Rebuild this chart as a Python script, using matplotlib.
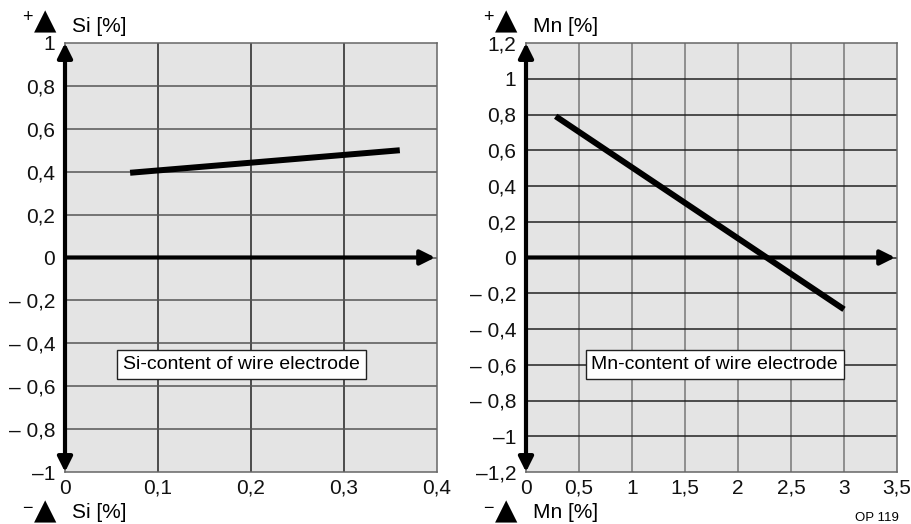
import matplotlib.pyplot as plt

plt.rcParams['font.family'] = ['Liberation Sans', 'DejaVu Sans']

# Si panel
si_x = [0.07, 0.36]
si_y = [0.395, 0.50]
si_xticks = [0, 0.1, 0.2, 0.3, 0.4]
si_xlabels = ['0', '0,1', '0,2', '0,3', '0,4']
si_yticks = [-1, -0.8, -0.6, -0.4, -0.2, 0, 0.2, 0.4, 0.6, 0.8, 1]
si_ylabels = ['–1', '– 0,8', '– 0,6', '– 0,4', '– 0,2', '0', '0,2', '0,4', '0,6', '0,8', '1']

# Mn panel
mn_x = [0.28, 3.0]
mn_y = [0.79, -0.29]
mn_xticks = [0, 0.5, 1, 1.5, 2, 2.5, 3, 3.5]
mn_xlabels = ['0', '0,5', '1', '1,5', '2', '2,5', '3', '3,5']
mn_yticks = [-1.2, -1, -0.8, -0.6, -0.4, -0.2, 0, 0.2, 0.4, 0.6, 0.8, 1, 1.2]
mn_ylabels = ['–1,2', '–1', '– 0,8', '– 0,6', '– 0,4', '– 0,2', '0',
              '0,2', '0,4', '0,6', '0,8', '1', '1,2']

W, H = 911, 524
fig = plt.figure(figsize=(W / 100, H / 100), dpi=100)


def px(x, y):
    return x / W, 1 - y / H


def panel(rect, xs, ys, xticks, xlabels, yticks, ylabels, vcol, hcol, box_xy, box_text, name, lx):
    ax = fig.add_axes(rect)
    ax.set_facecolor('#e4e4e4')
    ax.set_xlim(xticks[0], xticks[-1])
    ax.set_ylim(yticks[0], yticks[-1])
    ax.set_xticks(xticks)
    ax.set_xticklabels(xlabels)
    ax.set_yticks(yticks)
    ax.set_yticklabels(ylabels)
    ax.tick_params(length=0, labelsize=15, colors='#111')
    ax.tick_params(axis='y', pad=7)
    ax.tick_params(axis='x', pad=5)
    for v in xticks[1:-1]:
        ax.axvline(v, color=vcol, lw=1.1, zorder=1)
    for v in yticks[1:-1]:
        ax.axhline(v, color=hcol, lw=1.1, zorder=1)
    for s in ax.spines.values():
        s.set_color('#666')
        s.set_linewidth(1.1)
    # axes arrows
    ax.annotate('', xy=(0, yticks[-1]), xytext=(0, yticks[0]),
                arrowprops=dict(arrowstyle='<|-|>', color='black', lw=3,
                                mutation_scale=22, shrinkA=0, shrinkB=0),
                annotation_clip=False, zorder=5)
    ax.annotate('', xy=(xticks[-1] * 0.995, 0), xytext=(0, 0),
                arrowprops=dict(arrowstyle='-|>', color='black', lw=3,
                                mutation_scale=22, shrinkA=0, shrinkB=0),
                annotation_clip=False, zorder=5)
    ax.plot(xs, ys, color='black', lw=4.3, solid_capstyle='butt', zorder=4)
    ax.text(box_xy[0], box_xy[1], box_text, fontsize=14, ha='center', va='center',
            bbox=dict(boxstyle='square,pad=0.3', fc='white', ec='#222', lw=1), zorder=6)
    # axis headers
    fig.text(*px(lx - 38, 17), '+', fontsize=13, ha='center', va='center')
    fig.text(*px(lx - 20, 21), '▲', fontsize=21, ha='center', va='center',
             family='DejaVu Sans')
    fig.text(*px(lx + 7, 26), name, fontsize=15, ha='left', va='center')
    fig.text(*px(lx - 38, 509), '−', fontsize=13, ha='center', va='center')
    fig.text(*px(lx - 20, 511), '▲', fontsize=21, ha='center', va='center',
             family='DejaVu Sans')
    fig.text(*px(lx + 7, 513), name, fontsize=15, ha='left', va='center')
    return ax


panel([65 / W, 1 - 472 / H, (437 - 65) / W, (472 - 43) / H],
      si_x, si_y, si_xticks, si_xlabels, si_yticks, si_ylabels,
      '#222', '#555', (0.19, -0.5), 'Si-content of wire electrode', 'Si [%]', 65)
panel([526 / W, 1 - 472 / H, (897 - 526) / W, (472 - 43) / H],
      mn_x, mn_y, mn_xticks, mn_xlabels, mn_yticks, mn_ylabels,
      '#777', '#222', (1.78, -0.6), 'Mn-content of wire electrode', 'Mn [%]', 526)

fig.text(*px(877, 518), 'OP 119', fontsize=9.5, ha='center', va='center')

fig.savefig('out.png', dpi=100)
